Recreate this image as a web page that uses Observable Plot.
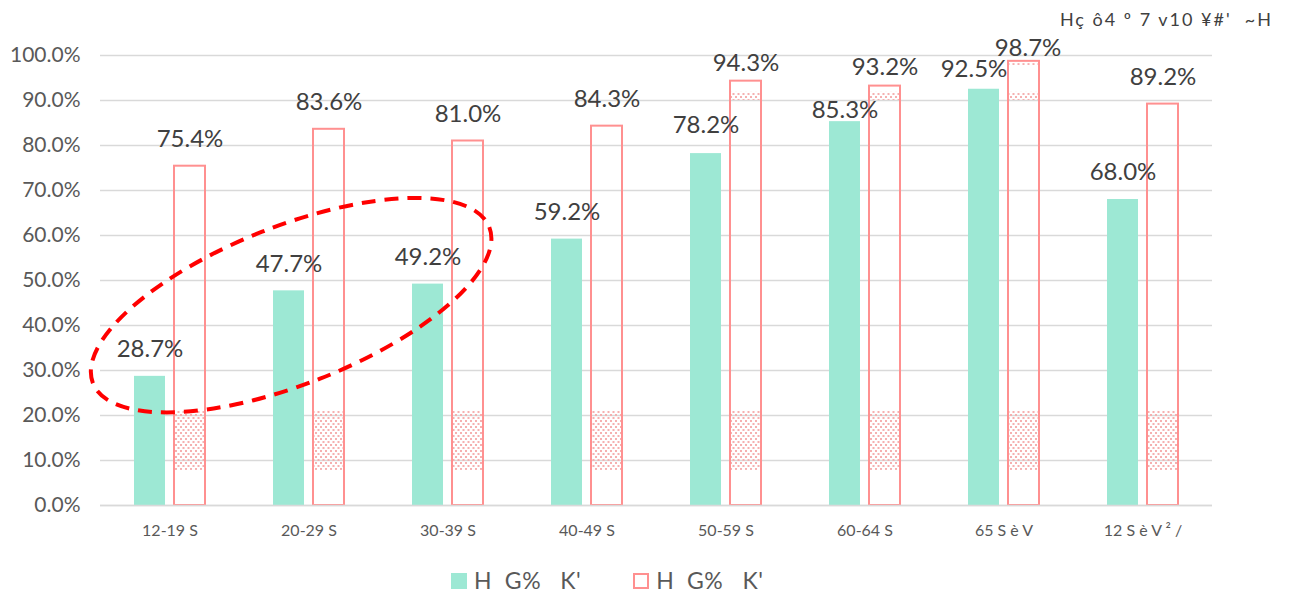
<!DOCTYPE html>
<html>
<head>
<meta charset="utf-8">
<script src="https://cdn.jsdelivr.net/npm/d3@7"></script>
<script src="https://cdn.jsdelivr.net/npm/@observablehq/plot@0.6"></script>
<style>
  body { margin: 0; background: #fff; font-family: Lato, "Noto Sans", sans-serif; }
  #wrap { position: relative; width: 1297px; height: 597px; overflow: hidden; }
  #chart { position: absolute; left: 0; top: 0; }
  #title { position: absolute; top: 10px; right: 24px; font-size: 18px; color: #404040; white-space: pre; letter-spacing: 2px; line-height: 1; }
  #legend { position: absolute; top: 569px; left: 451px; display: flex; align-items: center; font-size: 23px; color: #595959; white-space: pre; line-height: 1; letter-spacing: 0.5px; }
  .sw { width: 16px; height: 16px; box-sizing: border-box; margin-right: 7px; }
  .sw.a { background: #9de8d4; }
  .sw.b { border: 2px solid #ff9090; background: #fff; margin-left: 52px; }
</style>
</head>
<body>
<div id="wrap">
  <div id="chart"></div>
  <div id="title"></div>
  <div id="legend"></div>
</div>
<script>
// ---- data ----
const titleText = "Hç ô4 º 7 v10 ¥#'  ~H";
const categories = ["12-19 S", "20-29 S", "30-39 S", "40-49 S", "50-59 S", "60-64 S", "65 S è V", "12 S è V ² /"];
const seriesNames = ["H  G%   K'", "H  G%   K'"];
const filledValues = [28.7, 47.7, 49.2, 59.2, 78.2, 85.3, 92.5, 68.0];
const outlinedValues = [75.4, 83.6, 81.0, 84.3, 94.3, 93.2, 98.7, 89.2];
const yTicks = [0, 10, 20, 30, 40, 50, 60, 70, 80, 90, 100];
// dotted (pattern) strips inside outlined bars
const patternCats = ["12-19 S", "20-29 S", "30-39 S", "40-49 S", "50-59 S", "60-64 S", "65 S è V", "12 S è V ² /", "50-59 S", "60-64 S", "65 S è V", "65 S è V"];
const patternLow  = [7.8, 7.8, 7.8, 7.8, 7.8, 7.8, 7.8, 7.8, 90.0, 90.0, 90.0, 97.6];
const patternHigh = [21.1, 21.1, 21.1, 21.1, 21.1, 21.1, 21.1, 21.1, 91.8, 91.8, 91.8, 98.2];
// label nudges (pixels) as laid out in the original
const filledLift = [27, 27, 27, 27, 28, 11, 20, 27];
const outlinedLift = [27, 27, 27, 27, 18, 19, 13, 27];
const filledShift = [0, 0, 0, 0, 0, 0, -10, 0];
const outlinedShift = [0, 0, 0, 0, 0, 0, 4, 0];

// ---- build tables ----
const filled = categories.map((c, i) => ({cat: c, v: filledValues[i], lift: filledLift[i], shift: filledShift[i]}));
const outlined = categories.map((c, i) => ({cat: c, v: outlinedValues[i], lift: outlinedLift[i], shift: outlinedShift[i]}));
const patterns = patternCats.map((c, i) => ({cat: c, lo: patternLow[i], hi: patternHigh[i]}));

const fmt = d => d.toFixed(1) + "%";
const labelFont = {fontSize: 24, fill: "#404040", letterSpacing: -1.5, fontFamily: "Lato, 'Noto Sans', sans-serif"};

function nudge(rows) {
  return function(index, scales, values, dims, ctx, next) {
    const g = next(index, scales, values, dims, ctx);
    d3.select(g).selectAll("text").each(function(_, j) {
      const r = rows[index[j]];
      const t = this.getAttribute("transform") || "";
      this.setAttribute("transform", `${t} translate(${r.shift},${-r.lift})`.trim());
    });
    return g;
  };
}

const plot = Plot.plot({
  width: 1297,
  height: 550,
  marginLeft: 100,
  marginRight: 85,
  marginTop: 55,
  marginBottom: 45,
  style: {fontFamily: "Lato, 'Noto Sans', sans-serif", color: "#595959", background: "transparent"},
  x: {domain: categories, padding: 0, label: null},
  y: {domain: [0, 100], label: null},
  marks: [
    Plot.ruleY(yTicks, {stroke: "#d9d9d9", strokeWidth: 1.5}),
    Plot.barY(patterns, {x: "cat", y1: "lo", y2: "hi", insetLeft: 75, insetRight: 35, fill: "url(#dots)"}),
    Plot.barY(filled, {x: "cat", y: "v", insetLeft: 34, insetRight: 74, fill: "#9de8d4"}),
    Plot.barY(outlined, {x: "cat", y: "v", insetLeft: 74, insetRight: 34, fill: "none", stroke: "#ff9090", strokeWidth: 2}),
    Plot.text(filled, {x: "cat", y: "v", text: d => fmt(d.v), dx: -20, ...labelFont, render: nudge(filled)}),
    Plot.text(outlined, {x: "cat", y: "v", text: d => fmt(d.v), dx: 20, ...labelFont, render: nudge(outlined)}),
    Plot.axisY({ticks: yTicks, tickFormat: fmt, tickSize: 0, tickPadding: 20, fontSize: 21, letterSpacing: -1.5, label: null}),
    Plot.axisX({tickSize: 0, tickPadding: 19, fontSize: 16, letterSpacing: -0.5, label: null}),
    Plot.ruleY([0], {stroke: "#d9d9d9", strokeWidth: 1.5})
  ]
});

// pattern defs
const svg = d3.select(plot);
const defs = svg.insert("defs", ":first-child");
const pat = defs.append("pattern").attr("id", "dots").attr("patternUnits", "userSpaceOnUse")
  .attr("width", 5).attr("height", 6);
pat.append("rect").attr("x", 0).attr("y", 0).attr("width", 2).attr("height", 2).attr("fill", "#f5b0b0");
pat.append("rect").attr("x", 2.5).attr("y", 3).attr("width", 2).attr("height", 2).attr("fill", "#f5b0b0");

// dashed ellipse annotation, anchored to the data scales
const xs = plot.scale("x"), ys = plot.scale("y");
const cx = xs.apply("20-29 S") + xs.bandwidth * 0.375;
const cy = ys.apply(44.4);
svg.append("ellipse")
  .attr("cx", cx).attr("cy", cy).attr("rx", 213).attr("ry", 79)
  .attr("transform", `rotate(-21.5 ${cx} ${cy})`)
  .attr("fill", "none").attr("stroke", "#ff0000").attr("stroke-width", 4)
  .attr("stroke-dasharray", "14 9");

document.getElementById("chart").appendChild(plot);
document.getElementById("title").textContent = titleText;

const legend = document.getElementById("legend");
legend.innerHTML = `<div class="sw a"></div><span>${seriesNames[0]}</span><div class="sw b"></div><span>${seriesNames[1]}</span>`;
</script>
</body>
</html>
